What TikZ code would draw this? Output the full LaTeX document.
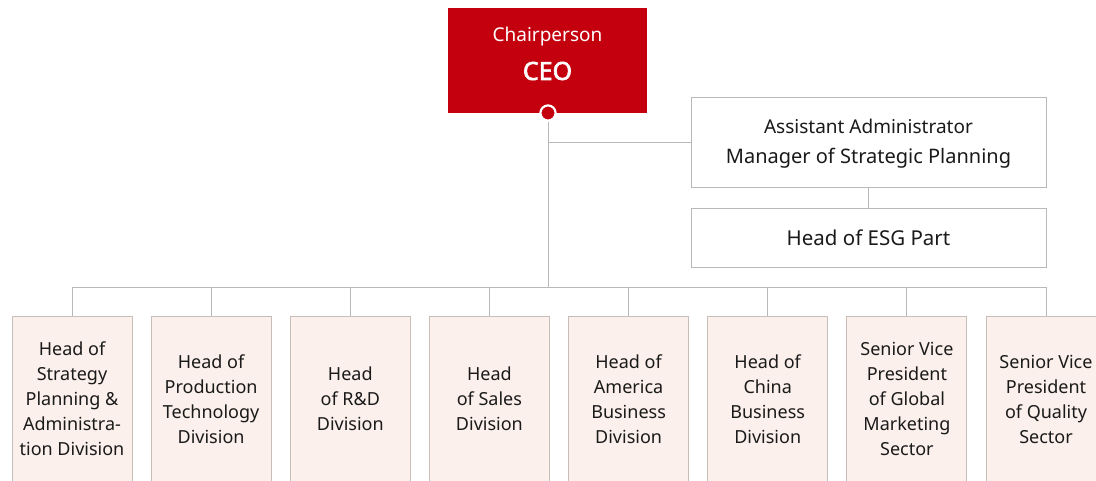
\documentclass[tikz,border=0pt]{standalone}
\usepackage{fontspec}
\setmainfont{Noto Sans}
\newfontfamily\ceofont{Noto Sans}[FakeBold=2.5]
\definecolor{ceored}{HTML}{C4000E}
\definecolor{boxfill}{HTML}{FBF0EB}
\definecolor{boxline}{HTML}{C9BDB7}
\definecolor{wline}{HTML}{B9B9B9}
\definecolor{txt}{HTML}{1A1A1A}
\begin{document}
\begin{tikzpicture}[x=1pt,y=-1pt,
  ceobox/.style={rectangle, fill=ceored, draw=none, minimum width=199pt, minimum height=105pt, inner sep=0pt, text=white},
  whitebox/.style={rectangle, fill=white, draw=wline, line width=0.9pt, inner sep=0pt, text=txt},
  divbox/.style={rectangle, fill=boxfill, draw=boxline, line width=0.9pt, minimum width=120pt, minimum height=166pt, inner sep=0pt, text=txt, align=center, font=\fontsize{18}{25}\selectfont},
  conn/.style={draw=wline, line width=1pt}]
\useasboundingbox (0,0) rectangle (1096,480);
% CEO
\node[ceobox] (ceo) at (547.5,60.5) {};
\node[text=white, font=\fontsize{19}{22}\selectfont, inner sep=0pt] (chair) at (547.5,37) {Chairperson};
\node[text=white, font=\ceofont\fontsize{25}{28}\selectfont, inner sep=0pt] (ceot) at (547.5,71) {CEO};
% assistant and ESG
\node[whitebox, minimum width=355pt, minimum height=90pt] (asst) at (868.5,142) {};
\node[text=txt, font=\fontsize{19}{22}\selectfont, inner sep=0pt] (asst1) at (868.5,126) {Assistant Administrator};
\node[text=txt, font=\fontsize{20}{24}\selectfont, inner sep=0pt] (asst2) at (868.5,158) {Manager of Strategic Planning};
\node[whitebox, minimum width=355pt, minimum height=59pt, font=\fontsize{20.5}{24}\selectfont] (esg) at (868.5,237.5) {Head of ESG Part};
% bus coordinates
\coordinate (jn) at (548,142);
\coordinate (busc) at (548,287);
% divisions
\node[divbox] (d1) at (72,399) {Head of\\Strategy\\Planning \&\\Administra-\\tion Division};
\node[divbox] (d2) at (211.1,399) {Head of\\Production\\Technology\\Division};
\node[divbox] (d3) at (350.3,399) {Head\\of R\&D\\Division};
\node[divbox] (d4) at (489.4,399) {Head\\of Sales\\Division};
\node[divbox] (d5) at (628.6,399) {Head of\\America\\Business\\Division};
\node[divbox] (d6) at (767.7,399) {Head of\\China\\Business\\Division};
\node[divbox] (d7) at (906.9,399) {Senior Vice\\President\\of Global\\Marketing\\Sector};
\node[divbox] (d8) at (1046,399) {Senior Vice\\President\\of Quality\\Sector};
% connectors
\node[circle, fill=ceored, draw=white, line width=2pt, minimum size=15pt, inner sep=0pt] (dot) at (548,113) {};
\draw[conn] (dot.south) -- (busc);
\draw[conn] (jn) -- (asst.west);
\draw[conn] (asst.south) -- (esg.north);
\foreach \i in {1,...,8} {\draw[conn] (busc) -| (d\i.north);}
\node[circle, fill=ceored, draw=white, line width=2pt, minimum size=15pt, inner sep=0pt] at (dot) {};
\end{tikzpicture}
\end{document}
